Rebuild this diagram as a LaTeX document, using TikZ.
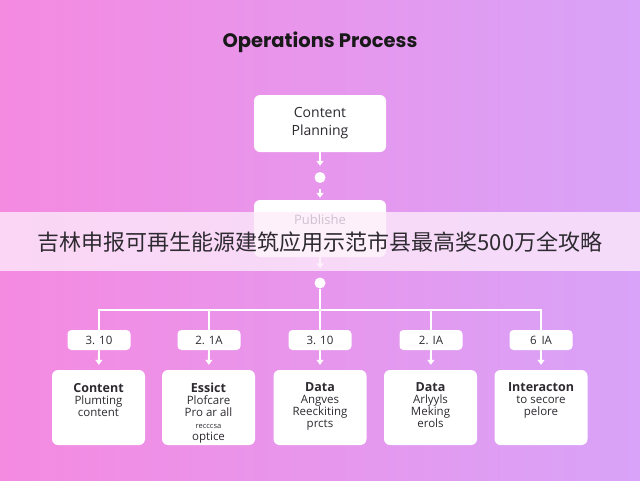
\documentclass[tikz,border=0pt]{standalone}
\usepackage{fontspec}
\setmainfont{Open Sans}
\newfontfamily\titlefont{Poppins}
\newfontfamily\cjk{Noto Sans CJK SC}
\usetikzlibrary{arrows.meta}
\definecolor{bgL}{RGB}{245,138,225}
\definecolor{bgR}{RGB}{216,163,248}
\definecolor{txt}{RGB}{45,42,48}
\definecolor{bannerc}{RGB}{253,236,251}
\newcommand\leafhead[1]{{\bfseries\fontsize{12.5}{15}\selectfont #1}}
\begin{document}
\begin{tikzpicture}[x=1pt,y=-1pt,
  card/.style={fill=white, rounded corners=6pt, minimum width=132pt, minimum height=57pt, inner sep=0pt, align=center, text=txt, font=\fontsize{14}{17}\selectfont},
  tag/.style={fill=white, rounded corners=4pt, minimum width=63pt, minimum height=20pt, inner sep=0pt, text=txt, font=\fontsize{11.5}{13}\selectfont},
  leaf/.style={fill=white, rounded corners=6pt, minimum width=93pt, minimum height=75pt, inner sep=0pt},
  leaftext/.style={anchor=north, inner sep=0pt, align=center, text=txt, font=\fontsize{11.5}{12}\selectfont},
  dot/.style={circle, fill=white, minimum size=11pt, inner sep=0pt},
  wire/.style={draw=white, line width=1.8pt},
  flow/.style={wire, -{Triangle[width=7pt,length=5pt]}}]
\useasboundingbox (0,0) rectangle (640,480);
\shade[left color=bgL, right color=bgR] (0,0) rectangle (640,480);

\node[font=\titlefont\bfseries\fontsize{19.5}{22}\selectfont, text=black!90] (title) at (320,42) {Operations Process};

\node[card] (cp) at (320,123.5) {Content\\[1pt]Planning};
\node[dot] (c1) at (320,177.5) {};
\node[card] (pub) at (320,228.5) {};
\node[text=txt, font=\fontsize{13}{15}\selectfont] (pubt) at (320,220) {Publishe};
\node[dot] (c2) at (320,283) {};
\coordinate (bus) at (320,310);

\draw[flow, shorten >=6pt] (cp) -- (c1);
\draw[flow, shorten <=6pt, shorten >=2pt] (c1) -- (pub);
\draw[flow, shorten >=9pt] (pub) -- (c2);

\node[tag] (t1) at (99,340) {3. 10};
\node[tag] (t2) at (209,340) {2. 1A};
\node[tag] (t3) at (320,340) {3. 10};
\node[tag] (t4) at (431,340) {2. IA};
\node[tag] (t5) at (541,340) {6\, IA};

\draw[wire] (c2) -- (t3);
\draw[wire] (t1.north) |- (t5.north |- bus) -- (t5.north);
\draw[wire] (t2.north) -- (t2.north |- bus);
\draw[wire] (t4.north) -- (t4.north |- bus);

\node[leaf] (b1) at (98.5,407.5) {};
\node[leaf] (b2) at (208.5,407.5) {};
\node[leaf] (b3) at (320,407.5) {};
\node[leaf] (b4) at (430.5,407.5) {};
\node[leaf] (b5) at (541,407.5) {};

\foreach \i in {1,...,5} { \draw[flow, shorten >=5pt] (t\i) -- (b\i); }

\node[leaftext] (l1) at ([yshift=-13pt]b1.north) {\leafhead{Content}\\Plumting\\content};
\node[leaftext] (l2) at ([yshift=-13pt]b2.north) {\leafhead{Essict}\\Plofcare\\Pro ar all\\{\fontsize{7.5}{9}\selectfont recccsa}\\optice};
\node[leaftext] (l3) at ([yshift=-13pt]b3.north) {\leafhead{Data}\\Angves\\Reeckiting\\prcts};
\node[leaftext] (l4) at ([yshift=-13pt]b4.north) {\leafhead{Data}\\Arlyyls\\Meking\\erols};
\node[leaftext] (l5) at ([yshift=-13pt]b5.north) {\leafhead{Interacton}\\to secore\\pelore};

\fill[bannerc, fill opacity=0.78] (0,212) rectangle (640,271);
\node[font=\cjk\fontsize{22}{26}\selectfont, text=txt] (ban) at (320,242) {吉林申报可再生能源建筑应用示范市县最高奖500万全攻略};
\end{tikzpicture}
\end{document}
